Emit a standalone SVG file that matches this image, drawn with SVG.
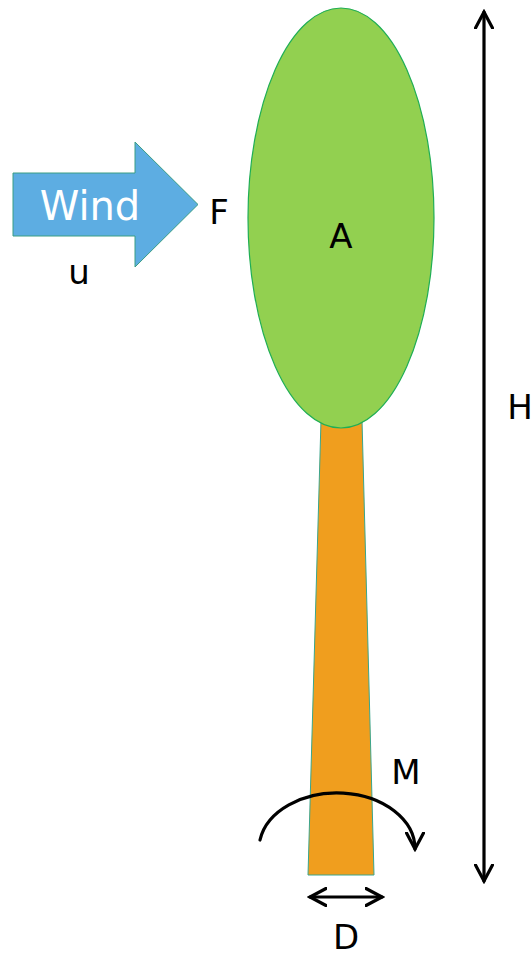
<svg xmlns="http://www.w3.org/2000/svg" width="532" height="958" viewBox="0 0 532 958">
  <style>
    .lbl { font-family: "DejaVu Sans", Verdana, sans-serif; font-size: 34px; fill: #000; }
    .dim { fill: none; stroke: #000; stroke-width: 3.2; stroke-linecap: round; }
  </style>
  <defs>
    <marker id="chev" viewBox="0 0 20 20" markerWidth="20" markerHeight="20" refX="17" refY="10" orient="auto-start-reverse" markerUnits="userSpaceOnUse">
      <path d="M1,1.5 L17,10 L1,18.5" fill="none" stroke="#000" stroke-width="3.2" stroke-linecap="round" stroke-linejoin="miter"/>
    </marker>
  </defs>

  <rect width="532" height="958" fill="#fff"/>

  <!-- wind arrow -->
  <g id="wind">
    <path d="M13,173 L135,173 L135,142 L198,204.5 L135,267 L135,236 L13,236 Z" fill="#5DADE2" stroke="#3a9e84" stroke-width="1"/>
    <text x="90" y="220" text-anchor="middle" font-family="DejaVu Sans, Verdana, sans-serif" font-size="40" fill="#fff">Wind</text>
  </g>
  <g id="label-F"><text class="lbl" x="219" y="224" text-anchor="middle">F</text></g>
  <g id="label-u"><text class="lbl" x="79" y="284" text-anchor="middle">u</text></g>

  <!-- trunk -->
  <g id="trunk">
    <path d="M321,420 L362,420 L374,875 L308,875 Z" fill="#F09E1E" stroke="#3aa58c" stroke-width="1"/>
  </g>

  <!-- crown -->
  <g id="crown">
    <ellipse cx="341" cy="218" rx="93" ry="210" fill="#92D050" stroke="#1fae55" stroke-width="1.2"/>
    <text class="lbl" x="341" y="248" text-anchor="middle">A</text>
  </g>

  <g id="connectors">
    <!-- height dimension -->
    <line class="dim" x1="484" y1="12" x2="484" y2="881" marker-start="url(#chev)" marker-end="url(#chev)"/>
    <!-- base diameter -->
    <line class="dim" x1="310" y1="897" x2="382" y2="897" marker-start="url(#chev)" marker-end="url(#chev)"/>
    <!-- bending moment -->
    <path class="dim" d="M260,840 A78,56 0 0 1 415,849" marker-end="url(#chev)"/>
  </g>

  <g id="label-H"><text class="lbl" x="520" y="419" text-anchor="middle">H</text></g>
  <g id="label-M"><text class="lbl" x="406" y="784" text-anchor="middle">M</text></g>
  <g id="label-D"><text class="lbl" x="346" y="949" text-anchor="middle">D</text></g>
</svg>
